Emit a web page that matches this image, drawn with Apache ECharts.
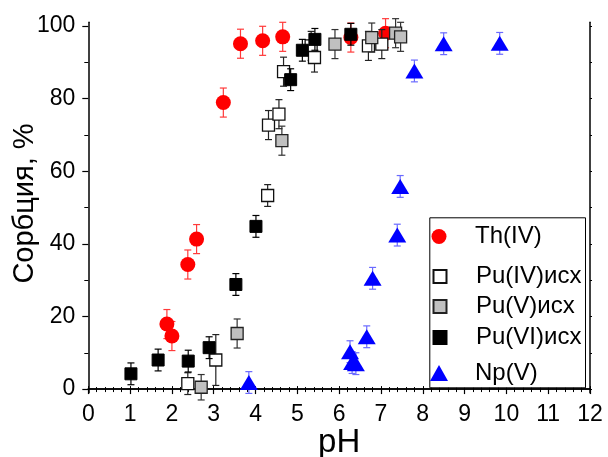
<!DOCTYPE html>
<html><head><meta charset="utf-8">
<script src="https://cdn.jsdelivr.net/npm/echarts@6/dist/echarts.min.js"></script>
<style>html,body{margin:0;padding:0;background:#fff}#c{width:608px;height:457px}</style>
</head><body><div id="c"></div>
<script>
const FONT = "'Liberation Sans', Arial, sans-serif";
// Th(IV)
const thPH  = [1.88, 2.00, 2.38, 2.59, 3.23, 3.64, 4.17, 4.65, 6.28, 7.11];
const thVal = [17.9, 14.6, 34.3, 41.3, 78.9, 95.1, 95.9, 97.0, 96.8, 98.0];
const thErr = [4, 4, 4, 4, 4, 4, 4, 4, 4, 4];
// Pu(IV)исх
const pu4PH  = [2.38, 3.05, 4.29, 4.31, 4.56, 4.67, 5.33, 5.41, 6.70, 7.02];
const pu4Val = [1.5, 8.0, 53.3, 72.7, 75.7, 87.4, 94.5, 91.3, 94.5, 95.0];
const pu4Err = [3, 7, 3, 4, 4, 4, 4, 4, 4, 4];
// Pu(V)исх
const pu5PH  = [2.70, 3.56, 4.63, 5.90, 6.78, 7.35, 7.47];
const pu5Val = [0.5, 15.3, 68.4, 95.0, 96.8, 98.0, 97.0];
const pu5Err = [3.5, 4, 4, 4, 4, 4, 4];
// Pu(VI)исх
const pu6PH  = [1.02, 1.67, 2.39, 2.89, 3.53, 4.01, 4.84, 5.12, 5.42, 6.28];
const pu6Val = [4.2, 8.0, 7.7, 11.4, 28.8, 44.8, 85.2, 93.3, 96.3, 97.7];
const pu6Err = [3, 3, 3, 3, 3, 3, 3, 3, 3, 3];
// Np(V)
const npPH  = [3.84, 6.26, 6.31, 6.40, 6.66, 6.80, 7.39, 7.46, 7.80, 8.50, 9.84];
const npVal = [1.8, 10.3, 7.3, 7.0, 14.4, 30.5, 42.4, 55.8, 87.6, 95.1, 95.2];
const npErr = [3, 3, 3, 3, 3, 3, 3, 3, 3, 3, 3];

const seriesNames = ['Th(IV)', 'Pu(IV)исх', 'Pu(V)исх', 'Pu(VI)исх', 'Np(V)'];
const yMajor = [0, 20, 40, 60, 80, 100];
const yMinor = [10, 30, 50, 70, 90];
const yRight = [0, 10, 20, 30, 40, 50, 60, 70, 80, 90, 100];

function pts(x, y, e) { return x.map((v, i) => [v, y[i], e[i]]); }

function errRender(color) {
  return function (params, api) {
    const x = api.value(0), y = api.value(1), e = api.value(2);
    const t = api.coord([x, y + e]), b = api.coord([x, y - e]);
    const st = { stroke: color, lineWidth: 1.2 };
    const cap = 3.5;
    return { type: 'group', children: [
      { type: 'line', shape: { x1: t[0], y1: t[1], x2: b[0], y2: b[1] }, style: st },
      { type: 'line', shape: { x1: t[0] - cap, y1: t[1], x2: t[0] + cap, y2: t[1] }, style: st },
      { type: 'line', shape: { x1: b[0] - cap, y1: b[1], x2: b[0] + cap, y2: b[1] }, style: st }
    ]};
  };
}

const groups = [
  { name: seriesNames[0], d: pts(thPH, thVal, thErr), sym: 'circle', size: 15, fill: '#ff0000', border: '#ff0000', bw: 0, err: '#ff3a3a' },
  { name: seriesNames[1], d: pts(pu4PH, pu4Val, pu4Err), sym: 'rect', size: 12, fill: '#ffffff', border: '#111111', bw: 1.3, err: '#222222' },
  { name: seriesNames[2], d: pts(pu5PH, pu5Val, pu5Err), sym: 'rect', size: 12, fill: '#c0c0c0', border: '#222222', bw: 1.3, err: '#333333' },
  { name: seriesNames[3], d: pts(pu6PH, pu6Val, pu6Err), sym: 'rect', size: 12, fill: '#000000', border: '#000000', bw: 1, err: '#000000' },
  { name: seriesNames[4], d: pts(npPH, npVal, npErr), sym: 'triangle', size: [18, 15], fill: '#0000ff', border: '#0000ff', bw: 0, err: '#6a6aff' }
];

const series = [];
groups.forEach((g, i) => {
  series.push({
    type: 'custom', name: g.name + ' err', data: g.d, encode: { x: 0, y: 1 },
    renderItem: errRender(g.err), z: 2 + i * 2, silent: true
  });
  series.push({
    type: 'scatter', name: g.name, data: g.d.map(p => [p[0], p[1]]),
    symbol: g.sym, symbolSize: g.size, z: 3 + i * 2,
    itemStyle: { color: g.fill, borderColor: g.border, borderWidth: g.bw, opacity: 1 }
  });
});

const legendCenters = [232, 271, 301, 332, 369];
const legendIconW = [15, 13, 13, 13, 18];
const legendIconH = [15, 13, 13, 13, 16];
const legends = seriesNames.map((n, i) => ({
  data: [n], left: 439 - legendIconW[i] / 2, top: legendCenters[i] - legendIconH[i] / 2, padding: 0,
  itemWidth: legendIconW[i], itemHeight: legendIconH[i], selectedMode: false,
  textStyle: { fontSize: 24, color: '#000', fontFamily: FONT,
    padding: [0, 0, 0, 475 - (439 + legendIconW[i] / 2) - 5] }, z: 20
}));

const axisLine = { show: true, lineStyle: { color: '#000', width: 1.5 } };
const common = { min: -1, max: 101, type: 'value', splitLine: { show: false } };

const option = {
  animation: false,
  backgroundColor: '#fff',
  textStyle: { fontFamily: FONT },
  grid: { left: 88.3, right: 18, top: 22.3, bottom: 64.3, containLabel: false, outerBoundsMode: 'none' },
  legend: legends,
  graphic: [{
    type: 'rect', left: 429.3, top: 217.3, shape: { width: 155.7, height: 170 },
    style: { fill: '#fff', stroke: '#000', lineWidth: 1 }, z: 10
  }],
  xAxis: [
    { type: 'value', min: 0, max: 12, interval: 1, position: 'bottom',
      axisLine, splitLine: { show: false },
      axisTick: { show: true, length: 5, lineStyle: { color: '#000', width: 1.2 } },
      minorTick: { show: true, splitNumber: 5, length: 3, lineStyle: { color: '#000', width: 1 } },
      axisLabel: { fontSize: 23, color: '#000', margin: 10, fontFamily: FONT },
      name: 'pH', nameLocation: 'middle', nameGap: 34, nameMoveOverlap: false,
      nameTextStyle: { fontSize: 33, color: '#000', fontFamily: FONT } },
    { type: 'value', min: 0, max: 12, interval: 1, position: 'top',
      axisLine, splitLine: { show: false },
      axisTick: { show: true, length: 3, inside: false, lineStyle: { color: '#000', width: 1 } },
      minorTick: { show: true, splitNumber: 5, length: 2, lineStyle: { color: '#000', width: 1 } },
      axisLabel: { show: false } }
  ],
  yAxis: [
    Object.assign({}, common, { position: 'left', axisLine, axisTick: { show: false }, axisLabel: { show: false },
      name: 'Сорбция, %', nameLocation: 'middle', nameGap: 49, nameMoveOverlap: false,
      nameTextStyle: { fontSize: 29, color: '#000', fontFamily: FONT, padding: [0, 0, 0, 8] } }),
    Object.assign({}, common, { position: 'left', axisLine: { show: false },
      axisTick: { show: true, length: 6, customValues: yMajor, lineStyle: { color: '#000', width: 1.2 } },
      axisLabel: { show: true, customValues: yMajor, fontSize: 23, color: '#000', margin: 13, fontFamily: FONT } }),
    Object.assign({}, common, { position: 'left', axisLine: { show: false },
      axisTick: { show: true, length: 4, customValues: yMinor, lineStyle: { color: '#000', width: 1 } },
      axisLabel: { show: false } }),
    Object.assign({}, common, { position: 'right', axisLine,
      axisTick: { show: true, length: 2, customValues: yRight, lineStyle: { color: '#000', width: 1 } },
      axisLabel: { show: false } })
  ],
  series
};
const chart = echarts.init(document.getElementById('c'), null, { renderer: 'canvas' });
chart.setOption(option);
</script></body></html>
